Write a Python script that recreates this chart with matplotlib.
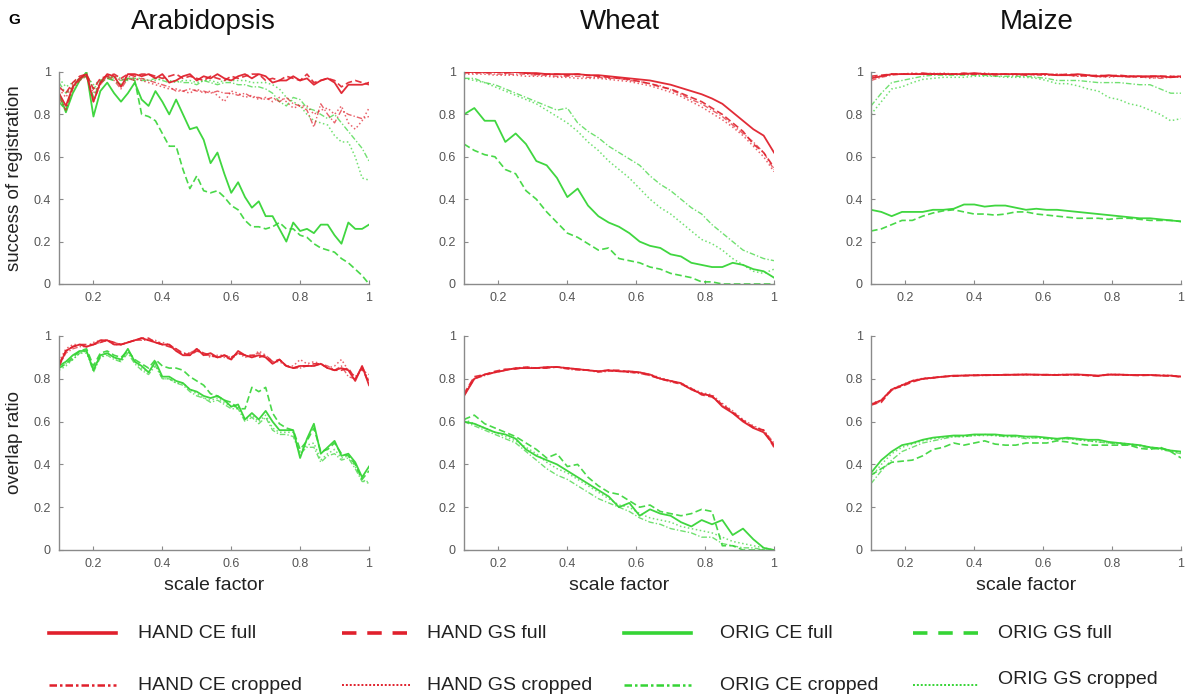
import numpy as np
import matplotlib.pyplot as plt

plt.rcParams['font.family'] = ['Liberation Sans', 'DejaVu Sans']

# x grids: Arabidopsis read every 0.02, wheat/maize every 0.03
x_fine = np.round(np.arange(0.10, 1.0001, 0.02), 2)
x_coarse = np.round(np.arange(0.10, 1.0001, 0.03), 2)

titles = ['Arabidopsis', 'Wheat', 'Maize']
row_labels = ['success of registration', 'overlap ratio']
series_names = ['HAND CE full', 'HAND GS full', 'HAND CE cropped', 'HAND GS cropped',
                'ORIG CE full', 'ORIG GS full', 'ORIG CE cropped', 'ORIG GS cropped']
yticks = [0, 0.2, 0.4, 0.6, 0.8, 1]
ytick_labels = ['0', '0.2', '0.4', '0.6', '0.8', '1']
xticks = [0.2, 0.4, 0.6, 0.8, 1]
xtick_labels = ['0.2', '0.4', '0.6', '0.8', '1']

# ---- Arabidopsis, success of registration ----
ara_suc_hand_ce_full = [0.90, 0.84, 0.93, 0.97, 0.99, 0.86, 0.95, 0.99, 0.98, 0.93,
                        0.99, 0.99, 0.98, 0.99, 0.97, 0.99, 0.95, 0.96, 0.98, 0.99,
                        0.96, 0.98, 0.97, 0.99, 0.97, 0.96, 0.98, 0.99, 0.97, 0.99,
                        0.98, 0.95, 0.96, 0.96, 0.98, 0.96, 0.97, 0.94, 0.96, 0.97,
                        0.95, 0.90, 0.94, 0.94, 0.94, 0.95]
ara_suc_hand_gs_full = [0.93, 0.90, 0.95, 0.98, 0.99, 0.92, 0.97, 0.98, 0.99, 0.97,
                        0.99, 0.98, 0.99, 0.99, 0.98, 0.97, 0.98, 0.99, 0.97, 0.98,
                        0.97, 0.96, 0.98, 0.97, 0.96, 0.98, 0.97, 0.98, 0.99, 0.99,
                        0.96, 0.97, 0.96, 0.98, 0.97, 0.96, 0.99, 0.95, 0.96, 0.97,
                        0.96, 0.93, 0.95, 0.96, 0.95, 0.94]
ara_suc_hand_ce_crop = [0.88, 0.82, 0.92, 0.96, 0.98, 0.86, 0.94, 0.98, 0.96, 0.92,
                        0.97, 0.96, 0.97, 0.96, 0.95, 0.94, 0.93, 0.91, 0.91, 0.92,
                        0.91, 0.91, 0.90, 0.91, 0.90, 0.90, 0.89, 0.90, 0.88, 0.88,
                        0.87, 0.88, 0.86, 0.88, 0.85, 0.84, 0.82, 0.74, 0.85, 0.80,
                        0.76, 0.82, 0.80, 0.79, 0.78, 0.79]
ara_suc_hand_gs_crop = [0.92, 0.88, 0.94, 0.97, 0.98, 0.90, 0.95, 0.97, 0.98, 0.96,
                        0.98, 0.97, 0.96, 0.95, 0.94, 0.93, 0.92, 0.92, 0.91, 0.90,
                        0.92, 0.90, 0.91, 0.89, 0.86, 0.91, 0.90, 0.88, 0.89, 0.87,
                        0.88, 0.86, 0.88, 0.86, 0.83, 0.84, 0.84, 0.80, 0.82, 0.83,
                        0.80, 0.84, 0.76, 0.73, 0.77, 0.83]
ara_suc_orig_ce_full = [0.90, 0.81, 0.90, 0.96, 1.00, 0.79, 0.91, 0.95, 0.90, 0.86,
                        0.90, 0.95, 0.87, 0.84, 0.91, 0.86, 0.80, 0.87, 0.80, 0.73,
                        0.74, 0.68, 0.57, 0.62, 0.52, 0.43, 0.48, 0.41, 0.36, 0.39,
                        0.32, 0.32, 0.26, 0.20, 0.29, 0.25, 0.26, 0.24, 0.28, 0.28,
                        0.23, 0.19, 0.29, 0.26, 0.26, 0.28]
ara_suc_orig_gs_full = [0.86, 0.82, 0.93, 0.97, 0.98, 0.88, 0.95, 0.97, 0.96, 0.94,
                        0.97, 0.96, 0.80, 0.79, 0.77, 0.71, 0.65, 0.65, 0.54, 0.45,
                        0.51, 0.44, 0.43, 0.44, 0.41, 0.37, 0.35, 0.30, 0.27, 0.27,
                        0.26, 0.27, 0.29, 0.26, 0.26, 0.23, 0.22, 0.19, 0.17, 0.16,
                        0.15, 0.12, 0.10, 0.07, 0.04, 0.00]
ara_suc_orig_ce_crop = [0.95, 0.90, 0.93, 0.97, 0.99, 0.92, 0.96, 0.98, 0.97, 0.96,
                        0.97, 0.97, 0.96, 0.96, 0.97, 0.96, 0.95, 0.96, 0.95, 0.95,
                        0.94, 0.96, 0.95, 0.94, 0.95, 0.95, 0.94, 0.94, 0.93, 0.93,
                        0.92, 0.90, 0.86, 0.84, 0.88, 0.87, 0.83, 0.82, 0.80, 0.78,
                        0.80, 0.76, 0.72, 0.68, 0.64, 0.58]
ara_suc_orig_gs_crop = [0.97, 0.93, 0.95, 0.97, 0.98, 0.94, 0.96, 0.97, 0.98, 0.97,
                        0.96, 0.97, 0.97, 0.96, 0.96, 0.97, 0.96, 0.95, 0.96, 0.96,
                        0.95, 0.96, 0.96, 0.95, 0.96, 0.96, 0.96, 0.96, 0.95, 0.95,
                        0.95, 0.94, 0.92, 0.88, 0.86, 0.84, 0.80, 0.77, 0.76, 0.75,
                        0.70, 0.67, 0.67, 0.60, 0.50, 0.49]

# ---- Arabidopsis, overlap ratio ----
ara_ov_hand_ce_full = [0.86, 0.93, 0.95, 0.96, 0.95, 0.96, 0.98, 0.98, 0.96, 0.96,
                       0.97, 0.98, 0.99, 0.98, 0.97, 0.96, 0.96, 0.93, 0.91, 0.91,
                       0.94, 0.91, 0.92, 0.90, 0.91, 0.89, 0.93, 0.91, 0.90, 0.91,
                       0.90, 0.87, 0.89, 0.86, 0.85, 0.86, 0.86, 0.86, 0.87, 0.85,
                       0.84, 0.85, 0.84, 0.79, 0.86, 0.77]
ara_ov_hand_gs_full = [0.87, 0.93, 0.95, 0.96, 0.96, 0.96, 0.97, 0.98, 0.97, 0.96,
                       0.97, 0.98, 0.99, 0.99, 0.97, 0.96, 0.95, 0.94, 0.92, 0.91,
                       0.93, 0.92, 0.91, 0.90, 0.91, 0.90, 0.92, 0.91, 0.91, 0.90,
                       0.91, 0.88, 0.89, 0.86, 0.85, 0.86, 0.86, 0.87, 0.87, 0.85,
                       0.84, 0.84, 0.85, 0.80, 0.85, 0.78]
ara_ov_hand_ce_crop = [0.86, 0.92, 0.94, 0.95, 0.95, 0.96, 0.97, 0.98, 0.97, 0.96,
                       0.97, 0.98, 0.98, 0.98, 0.98, 0.96, 0.96, 0.94, 0.91, 0.92,
                       0.94, 0.91, 0.91, 0.90, 0.90, 0.89, 0.92, 0.90, 0.91, 0.92,
                       0.90, 0.87, 0.89, 0.86, 0.85, 0.85, 0.86, 0.86, 0.87, 0.86,
                       0.84, 0.86, 0.81, 0.80, 0.86, 0.79]
ara_ov_hand_gs_crop = [0.88, 0.94, 0.96, 0.96, 0.95, 0.97, 0.98, 0.98, 0.96, 0.96,
                       0.97, 0.98, 0.99, 0.98, 0.97, 0.97, 0.96, 0.93, 0.92, 0.92,
                       0.94, 0.92, 0.90, 0.91, 0.91, 0.90, 0.92, 0.91, 0.90, 0.93,
                       0.91, 0.88, 0.88, 0.86, 0.86, 0.89, 0.87, 0.88, 0.87, 0.85,
                       0.86, 0.89, 0.84, 0.81, 0.84, 0.82]
ara_ov_orig_ce_full = [0.86, 0.88, 0.91, 0.93, 0.93, 0.84, 0.91, 0.92, 0.90, 0.89,
                       0.94, 0.88, 0.86, 0.83, 0.88, 0.81, 0.81, 0.79, 0.78, 0.75,
                       0.74, 0.72, 0.71, 0.72, 0.70, 0.67, 0.68, 0.61, 0.64, 0.61,
                       0.65, 0.60, 0.56, 0.56, 0.56, 0.43, 0.52, 0.59, 0.45, 0.48,
                       0.51, 0.44, 0.45, 0.41, 0.34, 0.39]
ara_ov_orig_gs_full = [0.85, 0.87, 0.90, 0.93, 0.94, 0.86, 0.92, 0.93, 0.91, 0.90,
                       0.93, 0.89, 0.87, 0.85, 0.89, 0.86, 0.85, 0.85, 0.84, 0.81,
                       0.79, 0.77, 0.73, 0.72, 0.70, 0.69, 0.66, 0.66, 0.76, 0.74,
                       0.76, 0.64, 0.59, 0.57, 0.56, 0.47, 0.51, 0.57, 0.46, 0.47,
                       0.50, 0.45, 0.44, 0.40, 0.33, 0.37]
ara_ov_orig_ce_crop = [0.85, 0.87, 0.89, 0.92, 0.93, 0.83, 0.90, 0.91, 0.89, 0.88,
                       0.92, 0.87, 0.84, 0.82, 0.86, 0.80, 0.80, 0.78, 0.77, 0.74,
                       0.72, 0.71, 0.69, 0.70, 0.68, 0.66, 0.66, 0.60, 0.62, 0.59,
                       0.62, 0.56, 0.54, 0.54, 0.53, 0.45, 0.48, 0.48, 0.41, 0.44,
                       0.45, 0.42, 0.43, 0.38, 0.32, 0.32]
ara_ov_orig_gs_crop = [0.84, 0.86, 0.89, 0.92, 0.92, 0.85, 0.90, 0.92, 0.90, 0.88,
                       0.93, 0.88, 0.85, 0.83, 0.87, 0.80, 0.80, 0.78, 0.78, 0.75,
                       0.73, 0.71, 0.70, 0.71, 0.69, 0.67, 0.67, 0.61, 0.63, 0.60,
                       0.63, 0.57, 0.55, 0.55, 0.55, 0.46, 0.49, 0.50, 0.42, 0.45,
                       0.47, 0.43, 0.44, 0.39, 0.33, 0.31]

# ---- Wheat, success of registration ----
wht_suc_hand_ce_full = [1.00, 1.00, 1.00, 1.00, 1.00, 1.00, 0.995, 0.995, 0.99, 0.99, 0.99,
                        0.99, 0.985, 0.985, 0.98, 0.975, 0.97, 0.965, 0.96, 0.95, 0.94,
                        0.925, 0.91, 0.895, 0.875, 0.85, 0.81, 0.77, 0.73, 0.70, 0.62]
wht_suc_hand_gs_full = [1.00, 1.00, 1.00, 1.00, 0.995, 1.00, 0.995, 0.99, 0.99, 0.99, 0.985,
                        0.99, 0.985, 0.98, 0.975, 0.97, 0.965, 0.955, 0.945, 0.93, 0.92,
                        0.90, 0.88, 0.86, 0.83, 0.80, 0.76, 0.72, 0.66, 0.62, 0.55]
wht_suc_hand_ce_crop = [0.995, 0.995, 0.995, 0.99, 0.99, 0.99, 0.99, 0.985, 0.985, 0.98, 0.98,
                        0.98, 0.975, 0.975, 0.97, 0.97, 0.96, 0.955, 0.945, 0.935, 0.915,
                        0.895, 0.87, 0.85, 0.82, 0.79, 0.75, 0.71, 0.67, 0.62, 0.54]
wht_suc_hand_gs_crop = [0.99, 0.99, 0.99, 0.985, 0.985, 0.985, 0.98, 0.98, 0.98, 0.975, 0.975,
                        0.97, 0.97, 0.97, 0.965, 0.96, 0.955, 0.945, 0.935, 0.92, 0.905,
                        0.885, 0.86, 0.835, 0.805, 0.775, 0.74, 0.70, 0.65, 0.60, 0.53]
wht_suc_orig_ce_full = [0.80, 0.83, 0.77, 0.77, 0.67, 0.71, 0.66, 0.58, 0.56, 0.50, 0.41,
                        0.45, 0.37, 0.32, 0.29, 0.27, 0.24, 0.20, 0.18, 0.17, 0.14,
                        0.13, 0.10, 0.09, 0.08, 0.08, 0.10, 0.09, 0.07, 0.06, 0.03]
wht_suc_orig_gs_full = [0.66, 0.63, 0.61, 0.60, 0.54, 0.52, 0.44, 0.40, 0.34, 0.29, 0.24,
                        0.22, 0.19, 0.16, 0.17, 0.12, 0.11, 0.10, 0.08, 0.07, 0.05,
                        0.04, 0.03, 0.01, 0.01, 0.00, 0.00, 0.00, 0.00, 0.00, 0.00]
wht_suc_orig_ce_crop = [0.97, 0.97, 0.95, 0.94, 0.92, 0.90, 0.88, 0.86, 0.84, 0.82, 0.83,
                        0.76, 0.72, 0.69, 0.65, 0.62, 0.59, 0.56, 0.51, 0.47, 0.44,
                        0.40, 0.36, 0.33, 0.28, 0.24, 0.20, 0.16, 0.14, 0.12, 0.11]
wht_suc_orig_gs_crop = [0.97, 0.96, 0.95, 0.93, 0.91, 0.89, 0.87, 0.85, 0.82, 0.79, 0.76,
                        0.72, 0.67, 0.63, 0.58, 0.54, 0.50, 0.45, 0.40, 0.36, 0.33,
                        0.29, 0.25, 0.21, 0.19, 0.16, 0.12, 0.09, 0.06, 0.05, 0.07]

# ---- Wheat, overlap ratio ----
wht_ov_hand_ce_full = [0.72, 0.80, 0.82, 0.83, 0.84, 0.85, 0.85, 0.85, 0.855, 0.855, 0.85,
                       0.845, 0.84, 0.835, 0.84, 0.835, 0.835, 0.83, 0.82, 0.80, 0.79,
                       0.78, 0.75, 0.73, 0.72, 0.67, 0.64, 0.60, 0.57, 0.55, 0.49]
wht_ov_hand_gs_full = [0.73, 0.81, 0.82, 0.835, 0.845, 0.845, 0.855, 0.85, 0.85, 0.855, 0.85,
                       0.845, 0.84, 0.835, 0.84, 0.84, 0.83, 0.83, 0.815, 0.80, 0.79,
                       0.775, 0.755, 0.725, 0.715, 0.68, 0.645, 0.605, 0.575, 0.56, 0.48]
wht_ov_hand_ce_crop = [0.72, 0.80, 0.815, 0.83, 0.84, 0.85, 0.85, 0.85, 0.85, 0.855, 0.845,
                       0.84, 0.84, 0.83, 0.835, 0.835, 0.83, 0.825, 0.815, 0.80, 0.785,
                       0.775, 0.75, 0.73, 0.72, 0.675, 0.64, 0.605, 0.57, 0.56, 0.50]
wht_ov_hand_gs_crop = [0.73, 0.805, 0.82, 0.83, 0.84, 0.85, 0.855, 0.85, 0.855, 0.855, 0.85,
                       0.845, 0.84, 0.835, 0.84, 0.835, 0.835, 0.83, 0.82, 0.805, 0.79,
                       0.78, 0.755, 0.735, 0.725, 0.685, 0.65, 0.61, 0.58, 0.56, 0.49]
wht_ov_orig_ce_full = [0.60, 0.59, 0.57, 0.55, 0.54, 0.52, 0.47, 0.44, 0.42, 0.40, 0.37,
                       0.34, 0.31, 0.28, 0.25, 0.20, 0.22, 0.16, 0.19, 0.17, 0.16,
                       0.13, 0.11, 0.14, 0.12, 0.14, 0.07, 0.10, 0.05, 0.01, 0.00]
wht_ov_orig_gs_full = [0.61, 0.63, 0.59, 0.57, 0.55, 0.53, 0.50, 0.47, 0.43, 0.45, 0.39,
                       0.40, 0.34, 0.30, 0.27, 0.26, 0.23, 0.20, 0.21, 0.18, 0.17,
                       0.16, 0.17, 0.19, 0.18, 0.02, 0.02, 0.00, 0.00, 0.00, 0.00]
wht_ov_orig_ce_crop = [0.60, 0.58, 0.56, 0.54, 0.52, 0.50, 0.46, 0.42, 0.38, 0.35, 0.33,
                       0.30, 0.27, 0.24, 0.22, 0.20, 0.18, 0.15, 0.13, 0.12, 0.10,
                       0.09, 0.08, 0.06, 0.06, 0.03, 0.02, 0.01, 0.01, 0.00, 0.00]
wht_ov_orig_gs_crop = [0.61, 0.59, 0.57, 0.55, 0.53, 0.51, 0.48, 0.45, 0.41, 0.38, 0.36,
                       0.33, 0.30, 0.27, 0.24, 0.21, 0.20, 0.17, 0.15, 0.14, 0.13,
                       0.11, 0.10, 0.09, 0.08, 0.06, 0.04, 0.03, 0.02, 0.01, 0.00]

# ---- Maize, success of registration ----
mz_suc_hand_ce_full = [0.97, 0.98, 0.99, 0.99, 0.99, 0.99, 0.99, 0.99, 0.99, 0.99, 0.995,
                       0.99, 0.99, 0.99, 0.99, 0.99, 0.99, 0.99, 0.985, 0.985, 0.99,
                       0.985, 0.98, 0.985, 0.98, 0.98, 0.98, 0.98, 0.98, 0.975, 0.98]
mz_suc_hand_gs_full = [0.98, 0.985, 0.99, 0.99, 0.99, 0.995, 0.99, 0.99, 0.99, 0.995, 0.99,
                       0.99, 0.99, 0.99, 0.99, 0.985, 0.99, 0.99, 0.985, 0.99, 0.985,
                       0.98, 0.985, 0.98, 0.985, 0.98, 0.975, 0.98, 0.98, 0.98, 0.975]
mz_suc_hand_ce_crop = [0.96, 0.975, 0.985, 0.99, 0.99, 0.99, 0.995, 0.99, 0.99, 0.99, 0.99,
                       0.99, 0.985, 0.99, 0.99, 0.99, 0.985, 0.985, 0.99, 0.985, 0.98,
                       0.985, 0.975, 0.98, 0.98, 0.975, 0.98, 0.975, 0.97, 0.975, 0.975]
mz_suc_hand_gs_crop = [0.975, 0.98, 0.99, 0.99, 0.995, 0.99, 0.99, 0.995, 0.99, 0.99, 0.99,
                       0.995, 0.99, 0.99, 0.985, 0.99, 0.99, 0.985, 0.99, 0.985, 0.98,
                       0.985, 0.98, 0.975, 0.98, 0.98, 0.98, 0.97, 0.975, 0.98, 0.98]
mz_suc_orig_ce_full = [0.35, 0.34, 0.32, 0.34, 0.34, 0.34, 0.35, 0.35, 0.355, 0.375, 0.375,
                       0.365, 0.37, 0.37, 0.36, 0.35, 0.355, 0.35, 0.35, 0.345, 0.34,
                       0.335, 0.33, 0.325, 0.32, 0.315, 0.31, 0.31, 0.305, 0.30, 0.295]
mz_suc_orig_gs_full = [0.25, 0.26, 0.28, 0.30, 0.30, 0.32, 0.335, 0.345, 0.35, 0.34, 0.33,
                       0.33, 0.325, 0.33, 0.34, 0.34, 0.33, 0.325, 0.32, 0.315, 0.31,
                       0.31, 0.31, 0.305, 0.31, 0.31, 0.305, 0.30, 0.30, 0.30, 0.295]
mz_suc_orig_ce_crop = [0.84, 0.90, 0.95, 0.96, 0.97, 0.98, 0.985, 0.985, 0.985, 0.985, 0.985,
                       0.985, 0.98, 0.98, 0.98, 0.98, 0.975, 0.97, 0.96, 0.96, 0.96,
                       0.955, 0.95, 0.95, 0.95, 0.945, 0.94, 0.94, 0.92, 0.90, 0.90]
mz_suc_orig_gs_crop = [0.80, 0.86, 0.92, 0.93, 0.95, 0.965, 0.97, 0.975, 0.975, 0.975, 0.98,
                       0.98, 0.98, 0.975, 0.975, 0.975, 0.97, 0.96, 0.945, 0.945, 0.935,
                       0.92, 0.91, 0.88, 0.87, 0.85, 0.84, 0.82, 0.80, 0.77, 0.78]

# ---- Maize, overlap ratio ----
mz_ov_hand_ce_full = [0.68, 0.70, 0.75, 0.77, 0.79, 0.80, 0.805, 0.81, 0.815, 0.815, 0.817,
                      0.817, 0.818, 0.818, 0.82, 0.82, 0.82, 0.818, 0.818, 0.82, 0.82,
                      0.818, 0.815, 0.82, 0.82, 0.818, 0.818, 0.818, 0.815, 0.815, 0.81]
mz_ov_hand_gs_full = [0.68, 0.69, 0.75, 0.765, 0.785, 0.80, 0.805, 0.81, 0.812, 0.815, 0.815,
                      0.818, 0.817, 0.82, 0.818, 0.82, 0.818, 0.82, 0.817, 0.818, 0.82,
                      0.815, 0.812, 0.82, 0.818, 0.817, 0.815, 0.817, 0.816, 0.813, 0.81]
mz_ov_hand_ce_crop = [0.675, 0.695, 0.745, 0.77, 0.79, 0.798, 0.803, 0.81, 0.813, 0.815, 0.816,
                      0.815, 0.817, 0.818, 0.819, 0.818, 0.82, 0.817, 0.818, 0.819, 0.818,
                      0.816, 0.813, 0.818, 0.819, 0.816, 0.817, 0.816, 0.814, 0.814, 0.808]
mz_ov_hand_gs_crop = [0.685, 0.70, 0.752, 0.772, 0.792, 0.802, 0.806, 0.811, 0.814, 0.816, 0.818,
                      0.818, 0.819, 0.817, 0.82, 0.821, 0.819, 0.819, 0.82, 0.82, 0.819,
                      0.817, 0.814, 0.821, 0.82, 0.819, 0.818, 0.819, 0.817, 0.816, 0.812]
mz_ov_orig_ce_full = [0.36, 0.42, 0.46, 0.49, 0.50, 0.515, 0.525, 0.53, 0.535, 0.535, 0.54,
                      0.54, 0.54, 0.535, 0.535, 0.53, 0.53, 0.525, 0.52, 0.525, 0.52,
                      0.515, 0.515, 0.505, 0.50, 0.495, 0.49, 0.48, 0.475, 0.465, 0.46]
mz_ov_orig_gs_full = [0.35, 0.38, 0.41, 0.415, 0.42, 0.44, 0.47, 0.48, 0.50, 0.49, 0.50,
                      0.51, 0.495, 0.49, 0.49, 0.50, 0.50, 0.50, 0.51, 0.505, 0.495,
                      0.49, 0.49, 0.49, 0.49, 0.49, 0.475, 0.47, 0.48, 0.46, 0.43]
mz_ov_orig_ce_crop = [0.31, 0.37, 0.42, 0.46, 0.48, 0.50, 0.51, 0.52, 0.53, 0.53, 0.535,
                      0.54, 0.535, 0.53, 0.53, 0.52, 0.525, 0.52, 0.515, 0.52, 0.515,
                      0.51, 0.505, 0.50, 0.495, 0.49, 0.485, 0.475, 0.47, 0.46, 0.45]
mz_ov_orig_gs_crop = [0.34, 0.40, 0.45, 0.48, 0.495, 0.51, 0.52, 0.525, 0.53, 0.53, 0.535,
                      0.535, 0.535, 0.53, 0.53, 0.525, 0.525, 0.52, 0.52, 0.52, 0.515,
                      0.51, 0.505, 0.50, 0.50, 0.495, 0.49, 0.48, 0.475, 0.465, 0.455]

panels = [
    [(x_fine, [ara_suc_hand_ce_full, ara_suc_hand_gs_full, ara_suc_hand_ce_crop, ara_suc_hand_gs_crop,
               ara_suc_orig_ce_full, ara_suc_orig_gs_full, ara_suc_orig_ce_crop, ara_suc_orig_gs_crop]),
     (x_coarse, [wht_suc_hand_ce_full, wht_suc_hand_gs_full, wht_suc_hand_ce_crop, wht_suc_hand_gs_crop,
                 wht_suc_orig_ce_full, wht_suc_orig_gs_full, wht_suc_orig_ce_crop, wht_suc_orig_gs_crop]),
     (x_coarse, [mz_suc_hand_ce_full, mz_suc_hand_gs_full, mz_suc_hand_ce_crop, mz_suc_hand_gs_crop,
                 mz_suc_orig_ce_full, mz_suc_orig_gs_full, mz_suc_orig_ce_crop, mz_suc_orig_gs_crop])],
    [(x_fine, [ara_ov_hand_ce_full, ara_ov_hand_gs_full, ara_ov_hand_ce_crop, ara_ov_hand_gs_crop,
               ara_ov_orig_ce_full, ara_ov_orig_gs_full, ara_ov_orig_ce_crop, ara_ov_orig_gs_crop]),
     (x_coarse, [wht_ov_hand_ce_full, wht_ov_hand_gs_full, wht_ov_hand_ce_crop, wht_ov_hand_gs_crop,
                 wht_ov_orig_ce_full, wht_ov_orig_gs_full, wht_ov_orig_ce_crop, wht_ov_orig_gs_crop]),
     (x_coarse, [mz_ov_hand_ce_full, mz_ov_hand_gs_full, mz_ov_hand_ce_crop, mz_ov_hand_gs_crop,
                 mz_ov_orig_ce_full, mz_ov_orig_gs_full, mz_ov_orig_ce_crop, mz_ov_orig_gs_crop])],
]

red = '#e0202c'
green = '#35d435'
colors = [red] * 4 + [green] * 4
# (linestyle, width, alpha) in panels, per series
panel_style = [('-', 1.3, 0.95), ((0, (4, 2)), 1.2, 0.9), ((0, (4, 1.5, 1, 1.5)), 1.0, 0.7), (':', 1.1, 0.7)] * 2
# legend samples: slightly heavier
legend_style = [('-', 2.6), ((0, (4, 3)), 2.6), ((0, (3, 1.2, 1, 1.2)), 1.8), ((0, (1, 1)), 1.4)] * 2
draw_order = [6, 7, 5, 4, 2, 3, 1, 0]

fig = plt.figure(figsize=(11.92, 6.97), dpi=100)

W, H = 1192.0, 697.0
col_left = [59, 464, 871]
col_w = 310
row_top = [72, 336]
row_bot = [284, 550]

for r in range(2):
    for c in range(3):
        ax = fig.add_axes([col_left[c] / W, 1 - row_bot[r] / H, col_w / W, (row_bot[r] - row_top[r]) / H])
        xs, ys_list = panels[r][c]
        for i in draw_order:
            ls, lw, al = panel_style[i]
            ax.plot(xs, ys_list[i], color=colors[i], linestyle=ls, linewidth=lw, alpha=al)
        ax.set_xlim(0.1, 1.0)
        ax.set_ylim(0, 1)
        ax.set_xticks(xticks)
        ax.set_xticklabels(xtick_labels)
        ax.set_yticks(yticks)
        ax.set_yticklabels(ytick_labels)
        ax.spines['top'].set_visible(False)
        ax.spines['right'].set_visible(False)
        for s in ['left', 'bottom']:
            ax.spines[s].set_color('#8a8a8a')
            ax.spines[s].set_linewidth(1.0)
        ax.tick_params(direction='in', length=3, width=0.8, color='#8a8a8a',
                       labelsize=9, labelcolor='#555555', pad=6)
        if r == 1:
            fig.text((col_left[c] + col_w / 2) / W, 1 - 585 / H, 'scale factor',
                     ha='center', va='center', fontsize=14, color='#222222')

title_x = [203, 620, 1037]
for c in range(3):
    fig.text(title_x[c] / W, 1 - 22 / H, titles[c], ha='center', va='center', fontsize=20, color='#111111')
fig.text(8 / W, 1 - 20 / H, 'G', ha='left', va='center', fontsize=11, fontweight='bold')
fig.text(15 / W, 1 - 178 / H, row_labels[0], rotation=90, ha='center', va='center', fontsize=13.5, color='#222222')
fig.text(15 / W, 1 - 443 / H, row_labels[1], rotation=90, ha='center', va='center', fontsize=13.5, color='#222222')

# legend drawn on a pixel-space overlay
lax = fig.add_axes([0, 0, 1, 1])
lax.set_xlim(0, W)
lax.set_ylim(H, 0)
lax.axis('off')
leg_line_x = [(49, 116), (342, 410), (624, 691), (913, 979)]
leg_text_x = [138, 427, 720, 998]
leg_row_y = [633, 685]
order = [[0, 1, 4, 5], [2, 3, 6, 7]]
for r in range(2):
    for c in range(4):
        i = order[r][c]
        ls, lw = legend_style[i]
        x0, x1 = leg_line_x[c]
        lax.plot([x0, x1], [leg_row_y[r], leg_row_y[r]], color=colors[i], linestyle=ls, linewidth=lw)
        ty = leg_row_y[r] - 6 if i == 7 else leg_row_y[r]
        lax.text(leg_text_x[c], ty, series_names[i], ha='left', va='center', fontsize=14, color='#222222')

fig.savefig('out.png', dpi=100)
